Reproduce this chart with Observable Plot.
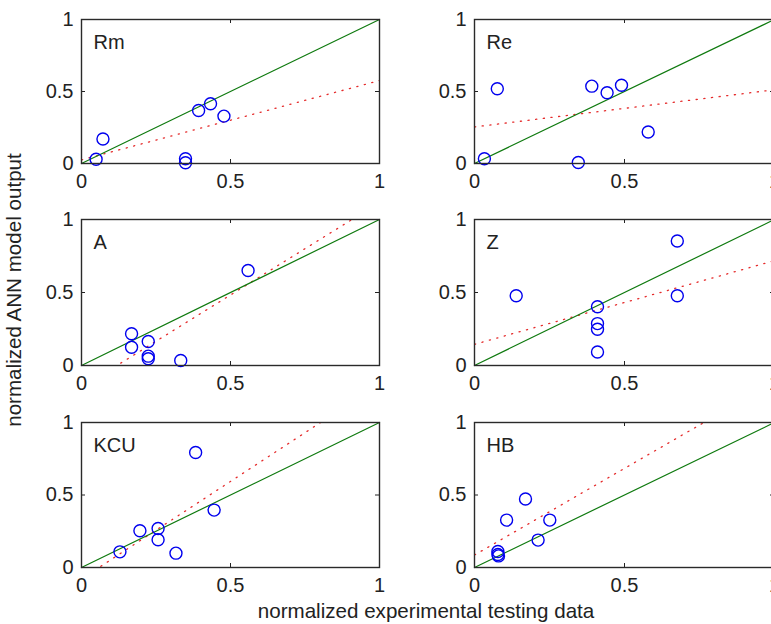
<!DOCTYPE html>
<html><head><meta charset="utf-8">
<script src="https://cdn.jsdelivr.net/npm/d3@7"></script>
<script src="https://cdn.jsdelivr.net/npm/@observablehq/plot@0.6"></script>
<style>
html,body{margin:0;padding:0;background:#fff;overflow:hidden;}
#chart{position:relative;width:771px;height:624px;overflow:hidden;font-family:"Liberation Sans",Arial,sans-serif;background:#fff;}
#chart > svg{position:absolute;}
</style></head><body><div id="chart"></div>
<script>
// ---- data ----
const panelNames = ["Rm", "Re", "A", "Z", "KCU", "HB"];
const tickValues = [0, 0.5, 1];
const xLabel = "normalized experimental testing data";
const yLabel = "normalized ANN model output";

const rmX = [0.049, 0.072, 0.349, 0.349, 0.393, 0.433, 0.478];
const rmY = [0.030, 0.170, 0.033, 0.005, 0.368, 0.415, 0.329];
const reX = [0.033, 0.076, 0.346, 0.391, 0.442, 0.490, 0.579];
const reY = [0.033, 0.519, 0.007, 0.537, 0.491, 0.543, 0.219];
const aX = [0.168, 0.168, 0.224, 0.224, 0.224, 0.333, 0.559];
const aY = [0.217, 0.125, 0.164, 0.064, 0.046, 0.034, 0.651];
const zX = [0.139, 0.410, 0.410, 0.410, 0.410, 0.676, 0.676];
const zY = [0.478, 0.402, 0.287, 0.248, 0.092, 0.853, 0.478];
const kcuX = [0.129, 0.196, 0.257, 0.257, 0.317, 0.383, 0.445];
const kcuY = [0.108, 0.253, 0.269, 0.191, 0.099, 0.793, 0.396];
const hbX = [0.078, 0.078, 0.080, 0.107, 0.170, 0.212, 0.251];
const hbY = [0.110, 0.090, 0.080, 0.327, 0.472, 0.189, 0.327];

// regression (red dotted) line endpoints at x = 0 and x = 1
const fitX = [0, 1];
const rmFit = [0.025, 0.576];
const reFit = [0.254, 0.512];
const aFit = [-0.151, 1.117];
const zFit = [0.145, 0.718];
const kcuFit = [-0.079, 1.266];
const hbFit = [0.086, 1.281];

// ideal y = x line
const diagX = [0, 1];
const diagY = [0, 1];

// ---- layout ----
const cols = [{left: 81, w: 298}, {left: 474, w: 300}];
const rows = [{top: 19, h: 144}, {top: 219, h: 146}, {top: 422, h: 145}];
const M = {l: 50, r: 8, t: 8, b: 34};

const panels = [
  {name: panelNames[0], x: rmX, y: rmY, fit: rmFit, c: 0, r: 0},
  {name: panelNames[1], x: reX, y: reY, fit: reFit, c: 1, r: 0},
  {name: panelNames[2], x: aX, y: aY, fit: aFit, c: 0, r: 1},
  {name: panelNames[3], x: zX, y: zY, fit: zFit, c: 1, r: 1},
  {name: panelNames[4], x: kcuX, y: kcuY, fit: kcuFit, c: 0, r: 2},
  {name: panelNames[5], x: hbX, y: hbY, fit: hbFit, c: 1, r: 2}
];

const root = document.getElementById("chart");
const ink = "#222";

for (const p of panels) {
  const w = cols[p.c].w, h = rows[p.r].h;
  const pts = p.x.map((x, i) => ({x, y: p.y[i]}));
  const fit = fitX.map((x, i) => ({x, y: p.fit[i]}));
  const diag = diagX.map((x, i) => ({x, y: diagY[i]}));
  const svg = Plot.plot({
    width: M.l + w + M.r,
    height: M.t + h + M.b,
    marginLeft: M.l, marginRight: M.r, marginTop: M.t, marginBottom: M.b,
    x: {domain: [0, 1], label: null},
    y: {domain: [0, 1], label: null},
    style: {background: "transparent", color: ink, fontSize: "20px", fontFamily: "'Liberation Sans', Arial, sans-serif", overflow: "visible"},
    marks: [
      Plot.line(fit, {x: "x", y: "y", stroke: "#e52a2a", strokeWidth: 1.3, strokeDasharray: "1.2 6.5", clip: true}),
      Plot.line(diag, {x: "x", y: "y", stroke: "#0f7a0f", strokeWidth: 1.2}),
      Plot.dot(pts, {x: "x", y: "y", r: 6, stroke: "#0000ee", strokeWidth: 1.4}),
      Plot.tickX(tickValues, {x: d => d, insetTop: h - 4, stroke: ink}),
      Plot.tickX(tickValues, {x: d => d, insetBottom: h - 4, stroke: ink}),
      Plot.tickY(tickValues, {y: d => d, insetRight: w - 4, stroke: ink}),
      Plot.tickY(tickValues, {y: d => d, insetLeft: w - 4, stroke: ink}),
      Plot.frame({stroke: "#2a2a2a", strokeWidth: 1.4}),
      Plot.axisX({ticks: tickValues, tickSize: 0, tickPadding: 10, tickFormat: d => String(d), label: null}),
      Plot.axisY({ticks: tickValues, tickSize: 0, tickPadding: 8, tickFormat: d => String(d), label: null}),
      Plot.text([p.name], {text: d => d, frameAnchor: "top-left", dx: 12, dy: 15, lineAnchor: "top", textAnchor: "start", fontSize: 20, fill: ink})
    ]
  });
  svg.style.left = (cols[p.c].left - M.l) + "px";
  svg.style.top = (rows[p.r].top - M.t) + "px";
  root.appendChild(svg);
}

// shared axis titles
const over = d3.select(root).append("svg")
  .attr("width", 771).attr("height", 624)
  .style("left", "0px").style("top", "0px").style("pointer-events", "none")
  .style("font-family", "'Liberation Sans', Arial, sans-serif").style("font-size", "20.6px");
over.append("text").attr("x", 426).attr("y", 618).attr("text-anchor", "middle").attr("fill", ink).text(xLabel);
over.append("text").attr("transform", "translate(21,290) rotate(-90)").attr("text-anchor", "middle").attr("fill", ink).text(yLabel);
</script></body></html>
